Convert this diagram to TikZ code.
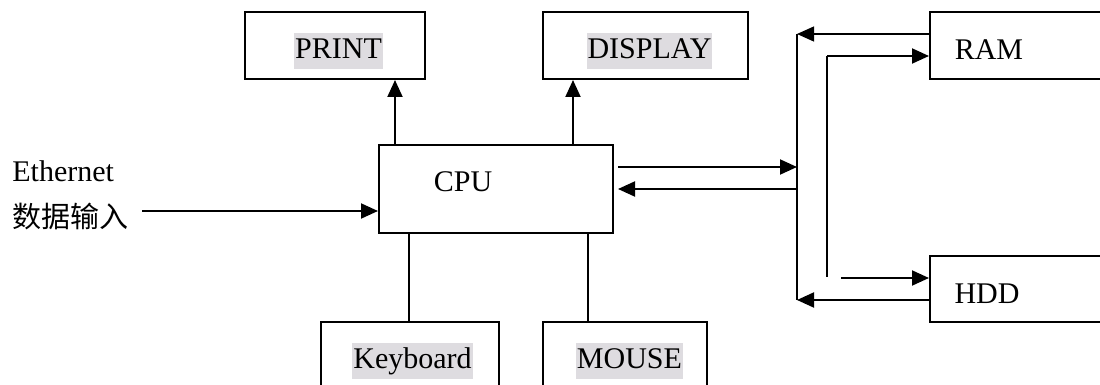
\documentclass[tikz,border=0pt]{standalone}
\usepackage{fontspec}
\setmainfont{Liberation Serif}
\newfontfamily\cjk{Noto Sans CJK SC}
\usetikzlibrary{arrows.meta}
\definecolor{hl}{RGB}{222,220,224}
\tikzset{
  box/.style={draw, line width=1pt, inner sep=0pt},
  lbl/.style={inner sep=0pt, font=\fontsize{15pt}{18pt}\selectfont},
  hilite/.style={lbl, fill=hl, inner xsep=0.5pt},
  conn/.style={line width=1pt},
  arr/.style={conn, -{Triangle[length=8.5pt,width=7.5pt]}},
}
\begin{document}
\begin{tikzpicture}[x=0.5pt, y=-0.5pt]
\clip (0,0) rectangle (1100,385);
\fill[white] (0,0) rectangle (1100,385);

% boxes
\node[box, minimum width=90pt,  minimum height=33.5pt] (print)    at (335,45.5)   {};
\node[box, minimum width=102.5pt, minimum height=33.5pt] (display) at (645.5,45.5) {};
\node[box, minimum width=117pt, minimum height=44pt]   (cpu)      at (496,189)    {};
\node[box, minimum width=86pt,  minimum height=33.5pt] (ram)      at (1016,45.5)  {};
\node[box, minimum width=86pt,  minimum height=33pt]   (hdd)      at (1016,289)   {};
\node[box, minimum width=89pt,  minimum height=40pt]   (keyboard) at (410,362)    {};
\node[box, minimum width=82pt,  minimum height=40pt]   (mouse)    at (625,362)    {};

% labels
\node[hilite] (printtxt)    at (338.5,51) {\strut PRINT};
\node[hilite] (displaytxt)  at (649.5,51) {\strut DISPLAY};
\node[lbl]    (cputxt)      at (463,184)  {\strut CPU};
\node[lbl]    (ramtxt)      at (989,52)   {\strut RAM};
\node[lbl]    (hddtxt)      at (987,296)  {\strut HDD};
\node[hilite] (keyboardtxt) at (412.5,361) {\strut Keyboard};
\node[hilite] (mousetxt)    at (629.5,361) {\strut MOUSE};
\node[lbl, anchor=west] (eth)   at (12,174) {\strut Ethernet};
\node[lbl, anchor=west] (ethcn) at (12,220) {\cjk\fontsize{14.5pt}{18pt}\selectfont\strut 数据输入};

% bus on the right
\coordinate (bustop) at (797,34);
\coordinate (busbot) at (797,300);
\draw[conn] (bustop) -- (busbot);
\coordinate (feedtop) at (827,56);
\coordinate (feedbot) at (827,277);
\draw[conn] (feedbot) -- (feedtop);

% CPU to outputs
\draw[arr] (cpu.north -| 395,0) -- (print.south -| 395,0);
\draw[arr] (cpu.north -| 573,0) -- (display.south -| 573,0);

% network input
\coordinate (ethstart) at (142,211);
\draw[arr] (ethstart) -- (cpu.west |- ethstart);

% CPU and bus
\coordinate (cpuout) at (618,167);
\coordinate (cpuin)  at (618,189);
\draw[arr] (cpuout) -- (cpuout -| bustop);
\draw[arr] (cpuin -| bustop) -- (cpuin);

% memory links
\draw[line width=0.6pt, -{Triangle[length=8.5pt,width=7.5pt]}] (ram.west |- bustop) -- (bustop);
\draw[arr] (feedtop) -- (ram.west |- feedtop);
\coordinate (hddin) at (841,278);
\draw[arr] (hddin) -- (hdd.west |- hddin);
\draw[arr] (hdd.west |- busbot) -- (busbot);

% keyboard and mouse
\draw[conn] (cpu.south -| 409,0) -- (keyboard.north -| 409,0);
\draw[conn] (cpu.south -| 588,0) -- (mouse.north -| 588,0);
\end{tikzpicture}
\end{document}
